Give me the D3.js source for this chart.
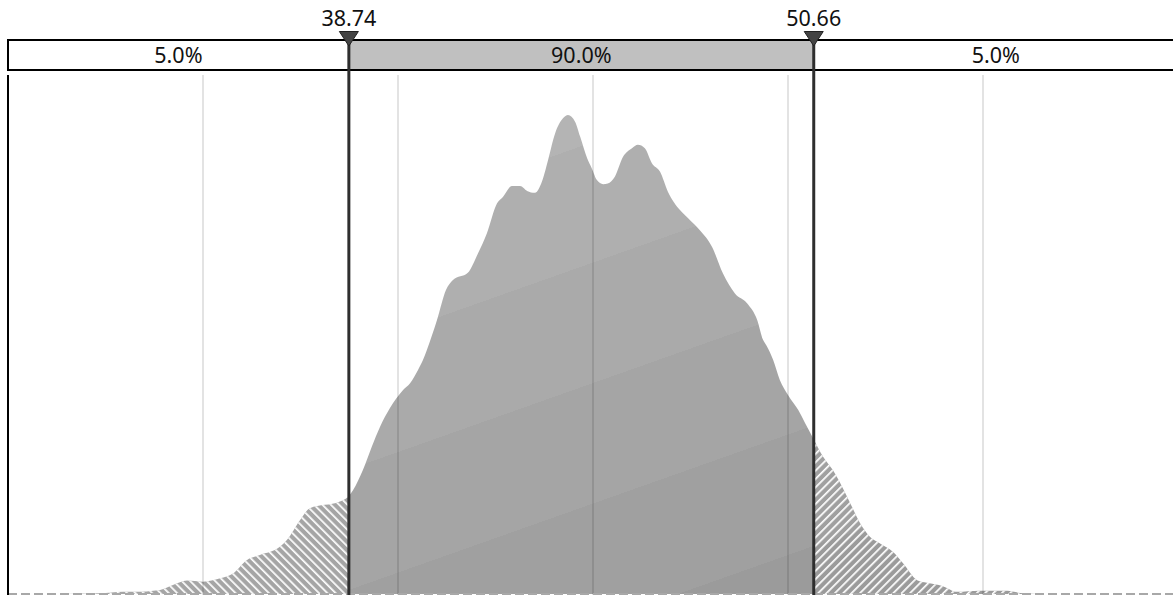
<!DOCTYPE html>
<html><head><meta charset="utf-8">
<script src="https://cdn.jsdelivr.net/npm/d3@7"></script>
<style>html,body{margin:0;padding:0;background:#fff;overflow:hidden}</style>
</head><body><svg id="c" width="1173" height="595"></svg>
<script>
// Sample values (x) and estimated probability density
const xValues = [31.33,32.36,32.95,33.21,33.90,34.23,34.59,35.00,35.44,35.77,36.13,36.46,36.97,37.15,37.49,37.74,38.51,38.72,38.85,39.10,39.33,39.54,39.79,40.13,40.31,40.51,40.64,40.74,41.00,41.23,41.41,41.79,42.05,42.28,42.54,42.69,42.92,43.13,43.31,43.51,43.72,43.85,44.03,44.23,44.36,44.54,44.67,44.85,44.97,45.10,45.26,45.38,45.56,45.77,46.00,46.15,46.33,46.51,46.72,46.92,47.23,47.44,47.74,48.05,48.33,48.64,48.95,49.21,49.36,49.44,49.62,49.79,50.00,50.26,50.44,50.64,50.90,51.15,51.41,51.64,51.85,52.10,52.36,52.69,52.95,53.31,53.56,53.97,54.33,54.92,55.62,55.95,56.46];
const densities = [0,0.0002,0.0006,0.0006,0.0011,0.0024,0.0036,0.0033,0.0042,0.0055,0.0091,0.0104,0.0126,0.0144,0.0198,0.0229,0.0247,0.0260,0.0278,0.0331,0.0394,0.0447,0.0496,0.0545,0.0563,0.0598,0.0625,0.0652,0.0732,0.0812,0.0839,0.0858,0.0910,0.0964,0.1044,0.1061,0.1090,0.1090,0.1077,0.1072,0.1111,0.1160,0.1231,0.1271,0.1280,0.1262,0.1222,0.1164,0.1137,0.1106,0.1095,0.1097,0.1115,0.1168,0.1191,0.1200,0.1191,0.1151,0.1128,0.1075,0.1026,0.1004,0.0972,0.0928,0.0857,0.0803,0.0777,0.0732,0.0679,0.0665,0.0625,0.0572,0.0532,0.0492,0.0456,0.0417,0.0367,0.0331,0.0282,0.0233,0.0189,0.0153,0.0135,0.0113,0.0082,0.0037,0.0030,0.0021,0.0006,0.0009,0.0009,0.0003,0];
const gridTicks = [30,35,40,45,50,55];
const percentileValues = [38.74, 50.66];
const percentileLabels = ["38.74", "50.66"];
const bandLabels = ["5.0%", "90.0%", "5.0%"];
const bandShades = ["#b4b4b4","#afafaf","#aaaaaa","#a5a5a5","#a0a0a0","#9b9b9b"];

const W = 1173, H = 595;
const svg = d3.select("#c");
const x = d3.scaleLinear().domain([30, 60]).range([8, 1178]);
const y = d3.scaleLinear().domain([0, 0.14]).range([594, 70]);
const data = xValues.map((v, i) => ({v, d: densities[i]}));

const defs = svg.append("defs");
// stepped diagonal shading
const nx = 0.3337, ny = 0.9427, step = 113.6;
const g = defs.append("linearGradient").attr("id", "shade")
  .attr("gradientUnits", "userSpaceOnUse")
  .attr("x1", 593).attr("y1", 21.5)
  .attr("x2", 593 + nx * step * bandShades.length).attr("y2", 21.5 + ny * step * bandShades.length)
  .attr("spreadMethod", "pad");
bandShades.forEach((c, i) => {
  g.append("stop").attr("offset", i / bandShades.length).attr("stop-color", c);
  g.append("stop").attr("offset", (i + 1) / bandShades.length).attr("stop-color", c);
});
function hatch(id, angle) {
  const p = defs.append("pattern").attr("id", id).attr("patternUnits", "userSpaceOnUse")
    .attr("width", 5.9).attr("height", 5.9).attr("patternTransform", `rotate(${angle})`);
  p.append("rect").attr("x", 0).attr("y", 0).attr("width", 1.7).attr("height", 5.9).attr("fill", "#fff");
}
hatch("hatchL", -45);
hatch("hatchR", 45);
const pl = x(percentileValues[0]), pr = x(percentileValues[1]);
defs.append("clipPath").attr("id", "clipL").append("rect").attr("x", 0).attr("y", 0).attr("width", pl - 1).attr("height", H);
defs.append("clipPath").attr("id", "clipR").append("rect").attr("x", pr + 1).attr("y", 0).attr("width", W - pr).attr("height", H);

const area = d3.area().x(d => x(d.v)).y0(y(0)).y1(d => y(d.d)).curve(d3.curveMonotoneX);
svg.append("path").datum(data).attr("d", area).attr("fill", "url(#shade)");
svg.append("path").datum(data).attr("d", area).attr("fill", "url(#hatchL)").attr("clip-path", "url(#clipL)");
svg.append("path").datum(data).attr("d", area).attr("fill", "url(#hatchR)").attr("clip-path", "url(#clipR)");

// grid
svg.append("g").selectAll("line").data(gridTicks.slice(1)).join("line")
  .attr("x1", d => x(d)).attr("x2", d => x(d)).attr("y1", 75).attr("y2", H)
  .attr("stroke", "rgba(0,0,0,0.11)").attr("stroke-width", 2);

// baseline
svg.append("line").attr("x1", x(30)).attr("x2", W).attr("y1", y(0)).attr("y2", y(0))
  .attr("stroke", "#a8a8a8").attr("stroke-width", 2).attr("stroke-dasharray", "9,4");

// left axis
svg.append("line").attr("x1", x(30)).attr("x2", x(30)).attr("y1", 75).attr("y2", H)
  .attr("stroke", "#000").attr("stroke-width", 2);

// probability band
svg.append("rect").attr("x", x(30)).attr("y", 40).attr("width", x(60) - x(30) + 10).attr("height", 30)
  .attr("fill", "#fff").attr("stroke", "#000").attr("stroke-width", 2);
svg.append("rect").attr("x", pl).attr("y", 41).attr("width", pr - pl).attr("height", 28).attr("fill", "#c0c0c0");
const bandCenters = [(x(30) + pl) / 2, (pl + pr) / 2, (pr + x(60)) / 2];
svg.append("g").selectAll("text").data(bandLabels).join("text")
  .attr("x", (d, i) => bandCenters[i]).attr("y", 63).attr("text-anchor", "middle")
  .attr("font-family", "'Noto Sans', sans-serif").attr("font-size", 21.5).attr("fill", "#111").text(d => d);

// percentile lines and markers
percentileValues.forEach((v, i) => {
  const px = x(v);
  svg.append("line").attr("x1", px).attr("x2", px).attr("y1", 40).attr("y2", H)
    .attr("stroke", "#2e2e2e").attr("stroke-width", 3);
  svg.append("path").attr("d", `M${px - 9.5},31.5L${px + 9.5},31.5L${px},46Z`)
    .attr("fill", "#444").attr("stroke", "#222").attr("stroke-width", 1);
  svg.append("text").attr("x", px).attr("y", 26).attr("text-anchor", "middle")
    .attr("font-family", "'Noto Sans', sans-serif").attr("font-size", 21.5).attr("fill", "#111")
    .text(percentileLabels[i]);
});
</script></body></html>
